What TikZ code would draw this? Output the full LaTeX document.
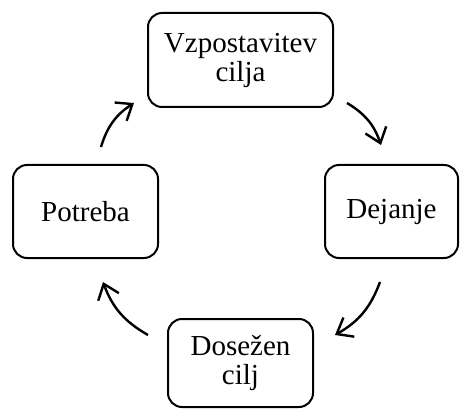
\documentclass[tikz,border=0pt]{standalone}
\usepackage{fontspec}
\setmainfont{Liberation Serif}
\usetikzlibrary{arrows.meta}
\begin{document}
\begin{tikzpicture}[x=1pt,y=1pt,
  box/.style={draw, line width=2pt, rounded corners=14pt, align=center,
    font=\fontsize{29}{29}\selectfont, inner sep=0pt},
  cyc/.style={line width=2.4pt, -{Straight Barb[length=14pt,width=22pt,line width=2.4pt]}, bend left=20}]
\useasboundingbox (0,0) rectangle (460,410);
\node[box, minimum width=185pt, minimum height=94pt] (cilj1) at (240.5,350) {Vzpostavitev\\cilja};
\node[box, minimum width=145pt, minimum height=93pt] (potreba) at (85.5,198.5) {Potreba};
\node[box, minimum width=133pt, minimum height=93pt] (dejanje) at (391.5,198.5) {Dejanje};
\node[box, minimum width=145pt, minimum height=88pt] (dosezen) at (240.5,47) {Dosežen\\cilj};
\coordinate (a1s) at (101,263); \coordinate (a1e) at (134,307);
\coordinate (a2s) at (347,307); \coordinate (a2e) at (381,265);
\coordinate (a3s) at (380,128); \coordinate (a3e) at (335,75);
\coordinate (a4s) at (148,75); \coordinate (a4e) at (103,128);
\draw[cyc] (a1s) to (a1e);
\draw[cyc] (a2s) to (a2e);
\draw[cyc] (a3s) to (a3e);
\draw[cyc] (a4s) to (a4e);
\end{tikzpicture}
\end{document}
